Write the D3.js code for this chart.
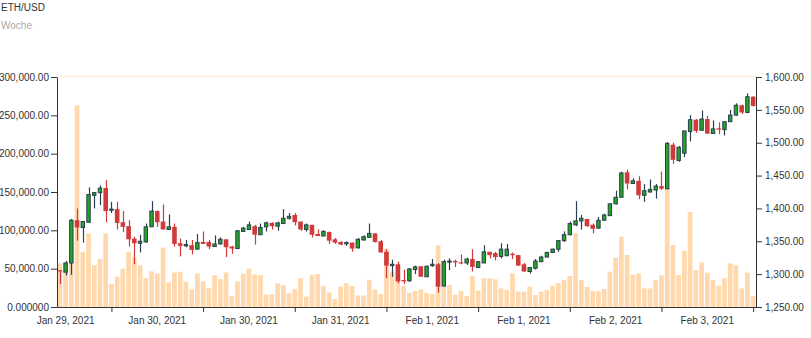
<!DOCTYPE html>
<html><head><meta charset="utf-8">
<script src="https://cdn.jsdelivr.net/npm/d3@7"></script>
<style>body{margin:0;background:#fff}svg{display:block;font-family:"Liberation Sans",Arial,sans-serif}</style>
</head><body><svg id="c" width="811" height="338"></svg>
<script>
const opens=[1306,1303,1317,1382,1371,1379,1420,1424,1431,1398,1399,1379,1373,1354,1347,1349,1372,1396,1380,1368,1372,1347,1343,1344,1338,1349,1349,1342,1346,1353,1342,1339,1365,1368,1373,1360,1372,1378,1373,1377,1385,1390,1380,1368,1375,1361,1358,1364,1353,1349,1347,1348,1340,1352,1356,1362,1350,1334,1313,1315,1291,1290,1307,1312,1296,1313,1315,1282,1319,1320,1318,1317,1323,1310,1317,1334,1332,1327,1328,1331,1329,1315,1304,1309,1319,1326,1333,1338,1351,1360,1375,1381,1384,1375,1370,1382,1389,1407,1417,1455,1438,1442,1420,1425,1428,1434,1430,1497,1473,1484,1517,1535,1519,1536,1514,1522,1520,1532,1542,1557,1546,1570];
const highs=[1306,1320,1384,1400,1381,1432,1425,1435,1443,1410,1410,1396,1382,1357,1360,1377,1411,1397,1406,1391,1377,1354,1352,1352,1361,1365,1352,1359,1356,1353,1343,1367,1372,1380,1375,1377,1380,1379,1380,1399,1393,1393,1380,1377,1375,1368,1367,1365,1355,1350,1350,1348,1355,1359,1377,1362,1352,1338,1322,1319,1307,1309,1313,1312,1313,1323,1317,1322,1324,1322,1330,1325,1338,1320,1344,1334,1334,1347,1346,1333,1329,1317,1311,1323,1328,1334,1339,1352,1365,1380,1411,1390,1384,1377,1387,1392,1408,1427,1456,1459,1446,1449,1437,1444,1437,1456,1501,1500,1495,1518,1542,1536,1549,1541,1534,1531,1532,1550,1560,1558,1575,1571];
const lows=[1285,1298,1299,1351,1348,1378,1400,1405,1379,1393,1368,1364,1342,1315,1333,1348,1372,1372,1368,1367,1342,1327,1341,1330,1338,1346,1338,1342,1345,1326,1331,1339,1365,1368,1345,1360,1365,1368,1366,1377,1383,1374,1366,1365,1356,1358,1358,1346,1346,1344,1343,1334,1339,1351,1356,1348,1333,1294,1296,1286,1285,1288,1300,1296,1296,1311,1272,1281,1306,1311,1315,1314,1304,1310,1317,1324,1321,1324,1328,1323,1313,1304,1301,1307,1319,1326,1333,1334,1349,1359,1373,1368,1372,1362,1369,1382,1389,1406,1416,1429,1438,1414,1410,1424,1415,1428,1429,1468,1471,1478,1502,1515,1518,1513,1514,1513,1511,1532,1541,1544,1545,1555];
const closes=[1305,1317,1382,1371,1380,1421,1424,1431,1396,1399,1378,1372,1353,1347,1350,1372,1396,1379,1368,1372,1346,1343,1345,1337,1348,1346,1342,1346,1353,1341,1339,1366,1370,1375,1360,1371,1378,1373,1378,1385,1388,1379,1368,1375,1360,1358,1365,1351,1348,1345,1348,1339,1353,1357,1362,1349,1333,1313,1315,1289,1289,1308,1311,1296,1312,1315,1281,1319,1320,1318,1317,1323,1311,1319,1334,1329,1326,1338,1338,1329,1313,1304,1310,1320,1326,1333,1338,1351,1360,1377,1381,1385,1373,1369,1382,1390,1407,1417,1454,1438,1442,1420,1427,1429,1434,1430,1499,1474,1493,1518,1535,1518,1536,1514,1521,1520,1532,1542,1557,1546,1570,1556];
const volumes=[57000,58000,87000,263000,72000,96000,54500,62500,96000,30000,39500,50000,72000,64500,54500,38000,46500,44000,77500,32000,45000,46000,33000,23000,44000,33500,24500,41500,36500,45000,14500,33500,43500,50000,42500,41500,16500,16500,31000,28500,18000,23500,37500,13500,42000,43000,27500,19000,10500,26500,31000,27500,15000,15000,35500,23000,17000,76000,45500,37000,27500,18500,21000,23000,18500,17000,80500,28700,28700,16000,21300,14300,40400,21300,37400,37400,36100,24300,22200,43900,20000,20000,26500,15600,20000,22200,27400,31000,35000,40400,96100,35200,26100,20900,20500,23500,46100,64300,91700,67800,42200,43500,24300,24300,35000,41500,155000,80800,41700,73400,124000,48200,58300,44700,35200,27800,37400,57000,54400,24300,45000,14300];
const volumeTicks=[0,50000,100000,150000,200000,250000,300000];
const priceTicks=[1250,1300,1350,1400,1450,1500,1550,1600];
const dateLabels=["Jan 29, 2021","Jan 30, 2021","Jan 30, 2021","Jan 31, 2021","Feb 1, 2021","Feb 1, 2021","Feb 2, 2021","Feb 3, 2021"];
const labelIdx=[1,17,33,49,65,81,97,113];
const tickIdx=[9,25,41,57,73,89,105,121];
const title="ETH/USD", subtitle="Woche";

const L=57,R=756,T=77,B=307;
const n=opens.length;
const svg=d3.select("#c");
const x=d3.scaleBand().domain(d3.range(n)).range([L,R]).paddingInner(0.18).paddingOuter(0.09);
const bw=x.bandwidth();
const xc=d3.scaleLinear().domain([-0.5,n-0.5]).range([L,R]);
const yv=d3.scaleLinear().domain([0,300000]).range([B,T]);
const yp=d3.scaleLinear().domain([1250,1600]).range([B,T]);

const GREEN="#22a722", RED="#d13a3a", DARK="#2d3e4f", VOL="#ffd9ad", TXT="#333";

svg.append("text").attr("x",1).attr("y",10.5).attr("font-size",10).attr("fill",TXT).text(title);
svg.append("text").attr("x",1).attr("y",29).attr("font-size",10).attr("fill","#aaa").text(subtitle);

svg.append("line").attr("x1",L).attr("x2",R).attr("y1",T-0.5).attr("y2",T-0.5)
  .attr("stroke","#fdf0e4").attr("stroke-width",2);

svg.append("g").selectAll("rect").data(volumes).join("rect")
  .attr("x",(d,i)=>x(i)).attr("y",d=>yv(d)).attr("width",bw).attr("height",d=>B-yv(d))
  .attr("fill",VOL);

const cg=svg.append("g");
const idx=d3.range(n);
cg.selectAll("line").data(idx).join("line")
  .attr("x1",i=>Math.round(xc(i))+0.5).attr("x2",i=>Math.round(xc(i))+0.5)
  .attr("y1",i=>yp(highs[i])).attr("y2",i=>yp(lows[i]))
  .attr("stroke",i=>closes[i]>=opens[i]?DARK:RED).attr("stroke-width",1.2);
cg.selectAll("rect").data(idx).join("rect")
  .attr("x",i=>closes[i]>=opens[i]?xc(i)-1.7:xc(i)-2.3)
  .attr("width",i=>closes[i]>=opens[i]?3.4:4.6)
  .attr("y",i=>yp(Math.max(opens[i],closes[i])))
  .attr("height",i=>Math.max(1.2,Math.abs(yp(opens[i])-yp(closes[i]))))
  .attr("fill",i=>closes[i]>=opens[i]?GREEN:RED)
  .attr("stroke",i=>closes[i]>=opens[i]?DARK:"none").attr("stroke-width",1);

function styleAxis(g){g.selectAll("path,line").attr("stroke",TXT);g.selectAll("text").attr("fill",TXT).attr("font-size",10).attr("font-family","Liberation Sans, Arial, sans-serif");}
const fmt2=d3.format(",.2f");
svg.append("g").attr("transform",`translate(${L},0)`)
  .call(d3.axisLeft(yv).tickValues(volumeTicks).tickSize(6).tickSizeOuter(0).tickPadding(2)
    .tickFormat(d=>d===0?"0.000000":fmt2(d))).call(styleAxis);
svg.append("g").attr("transform",`translate(${R},0)`)
  .call(d3.axisRight(yp).tickValues(priceTicks).tickSize(6).tickSizeOuter(0).tickPadding(3)
    .tickFormat(fmt2)).call(styleAxis);
svg.append("g").attr("transform",`translate(0,${B})`)
  .call(d3.axisBottom(xc).tickValues(tickIdx).tickSize(5).tickSizeOuter(0).tickFormat(""))
  .call(styleAxis);
svg.append("g").selectAll("text").data(labelIdx).join("text")
  .attr("x",i=>xc(i)).attr("y",323.5).attr("text-anchor","middle")
  .attr("font-size",10).attr("fill",TXT).text((d,k)=>dateLabels[k]);
</script></body></html>
